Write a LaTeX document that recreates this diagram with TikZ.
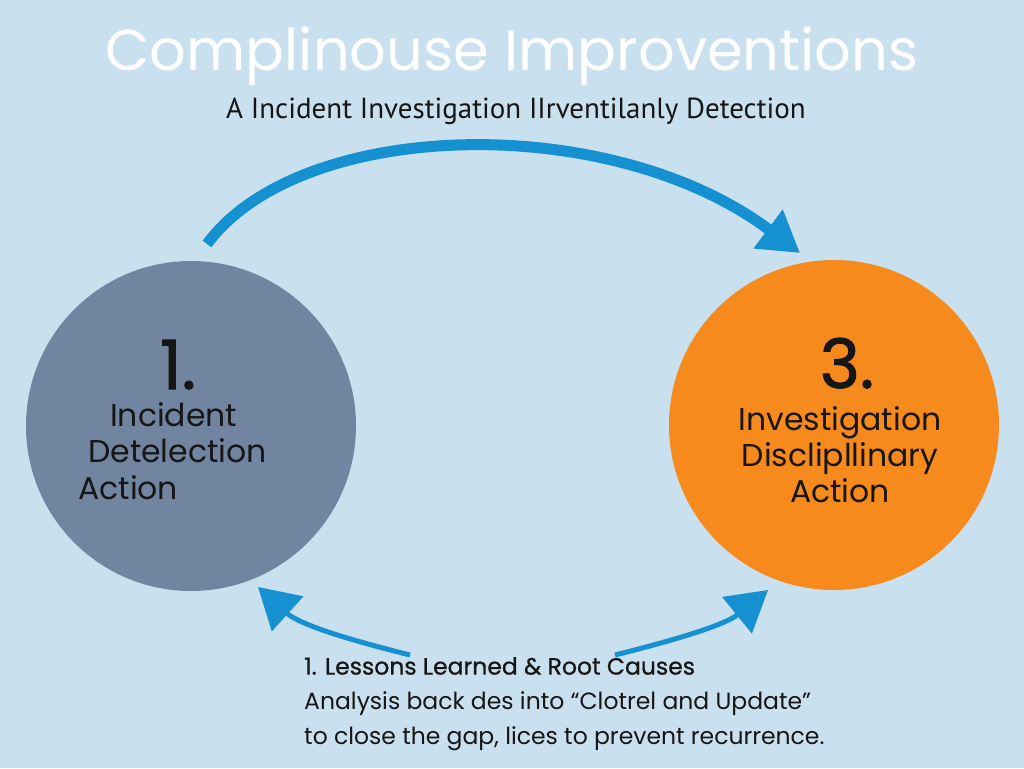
\documentclass[tikz,border=0pt]{standalone}
\usepackage{fontspec}
\setmainfont{Poppins}
\newfontfamily\subfont{PT Sans}
\newfontfamily\numfont[FakeBold=1.6]{Poppins}
\newfontfamily\headfont[FakeBold=0.8]{Poppins}
\usetikzlibrary{arrows.meta, positioning}

\definecolor{bgblue}{HTML}{C9E0EF}
\definecolor{slate}{HTML}{7285A0}
\definecolor{amber}{HTML}{F68A1C}
\definecolor{flowblue}{HTML}{1590D0}
\definecolor{ink}{HTML}{161616}

\tikzset{
  stagecirc/.style={circle, minimum size=#1, inner sep=0pt},
  bignum/.style={font=\numfont\fontsize{68}{70}\selectfont, text=ink, inner sep=0pt, text depth=0pt, anchor=base},
  stagetxt/.style={font=\fontsize{31.5}{36}\selectfont, text=ink, inner sep=0pt},
  flow/.style={draw=flowblue, line width=#1, -{Triangle[length=40pt, width=46pt]}},
}

\begin{document}
\begin{tikzpicture}[x=1pt, y=-1pt]
\fill[bgblue] (0,0) rectangle (1024,768);
\useasboundingbox (0,0) rectangle (1024,768);

\node[font=\fontsize{57.5}{60}\selectfont, text=white] (title) at (512,56) {Complinouse Improventions};
\node[font=\subfont\fontsize{29}{32}\selectfont, text=ink] (sub) at (516,111) {A Incident Investigation IIrventilanly Detection};

\node[stagecirc=330pt, fill=slate] (detect) at (191,426) {};
\node[stagecirc=330pt, fill=amber] (invest) at (834,425) {};

\node[bignum] (num1) at (178,389) {1.};
\node[stagetxt, anchor=west] (d1) at (110,415) {Incident};
\node[stagetxt, anchor=west] (d2) at (88,451) {Detelection};
\node[stagetxt, anchor=west] (d3) at (78,488) {Action};

\node[bignum] (num3) at (847,388) {3.};
\node[stagetxt, align=center] (inv) at (840,455) {Investigation\\Disclipllinary\\Action};

\coordinate (topstart) at (207,244);
\coordinate (topend) at (800,253);
\draw[flow=11pt] (topstart) .. controls (300,118) and (610,110) .. (topend);

\coordinate (lstart) at (410,655);
\coordinate (lend) at (258,587);
\draw[flow=5pt] (lstart) .. controls (350,640) and (300,625) .. (lend);

\coordinate (rstart) at (615,655);
\coordinate (rend) at (768,590);
\draw[flow=5pt] (rstart) .. controls (675,640) and (725,625) .. (rend);

\node[anchor=north west, align=left, inner sep=0pt, font=\fontsize{23.5}{35}\selectfont, text=ink] (lessons) at (304,657)
  {{\headfont 1. Lessons Learned \& Root Causes}\\
   Analysis back des into “Clotrel and Update”\\
   to close the gap, lices to prevent recurrence.};
\end{tikzpicture}
\end{document}
